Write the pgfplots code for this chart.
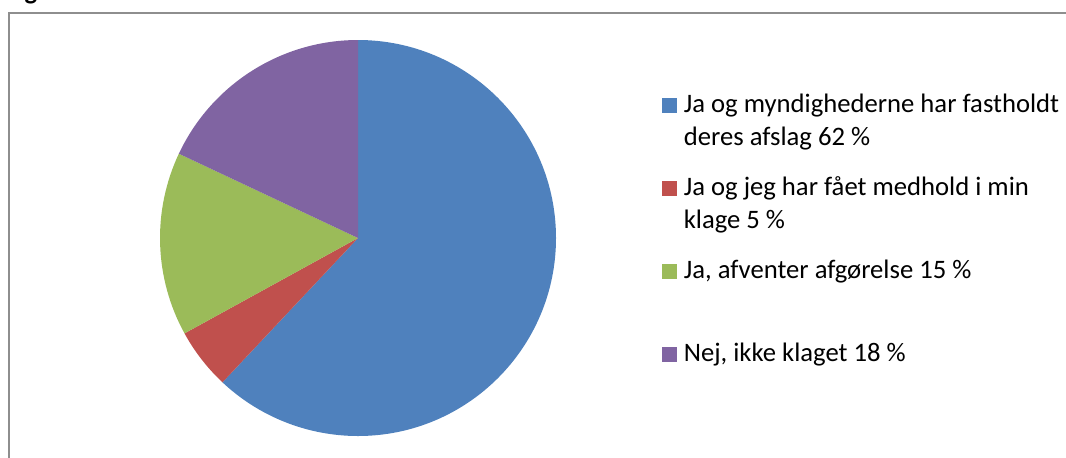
\documentclass[border=0pt]{standalone}
\usepackage{pgfplots}
\pgfplotsset{compat=1.18}
\usepackage{fontspec}
\setmainfont{Carlito}
\definecolor{pieblue}{HTML}{4F81BD}
\definecolor{piered}{HTML}{C0504D}
\definecolor{piegreen}{HTML}{9BBB59}
\definecolor{piepurple}{HTML}{8064A2}
\definecolor{framegray}{HTML}{8E8E8E}
\newcommand\entry[1]{\parbox[t]{330pt}{\raggedright\strut #1}}
\begin{document}
\begin{tikzpicture}
% shares in percent, clockwise from 12 o'clock
\def\pA{62}\def\pB{5}\def\pC{15}\def\pD{18}
\pgfmathsetmacro\aA{90}
\pgfmathsetmacro\aB{\aA-3.6*\pA}
\pgfmathsetmacro\aC{\aB-3.6*\pB}
\pgfmathsetmacro\aD{\aC-3.6*\pC}
\pgfmathsetmacro\aE{\aD-3.6*\pD}
\def\R{148.5pt}
\begin{axis}[
  scale only axis, width=799.5pt, height=342.75pt,
  xmin=0, xmax=1066, ymin=0, ymax=457, y dir=reverse,
  hide axis, clip=false,
  legend style={at={(axis cs:662,89)}, anchor=north west, draw=none, fill=none,
    inner sep=0pt, row sep=43.5pt, column sep=5.25pt,
    font=\fontsize{20}{24.75}\selectfont,
    cells={anchor=base west}, nodes={inner sep=0pt}},
  legend image code/.code={\fill[#1] (0pt,0pt) rectangle (10.5pt,10.5pt);},
]
\coordinate (bl) at (axis cs:0,457);
\coordinate (tr) at (axis cs:1066,0);
% frame
\draw[framegray, line width=1.1pt] (axis cs:9,490) -- (axis cs:9,13) -- (axis cs:1100,13);
\node[anchor=base, font=\bfseries\fontsize{20}{24}\selectfont, inner sep=0pt] at (axis cs:31,-1) {g};
% pie
\fill[pieblue]   (axis cs:358,238) -- ++(\aA:\R) arc[start angle=\aA, end angle=\aB, radius=\R] -- cycle;
\fill[piered]    (axis cs:358,238) -- ++(\aB:\R) arc[start angle=\aB, end angle=\aC, radius=\R] -- cycle;
\fill[piegreen]  (axis cs:358,238) -- ++(\aC:\R) arc[start angle=\aC, end angle=\aD, radius=\R] -- cycle;
\fill[piepurple] (axis cs:358,238) -- ++(\aD:\R) arc[start angle=\aD, end angle=\aE, radius=\R] -- cycle;
\addlegendimage{pieblue}
\addlegendentry{\entry{Ja og myndighederne har fastholdt\\deres afslag 62 \%}}
\addlegendimage{piered}
\addlegendentry{\entry{Ja og jeg har fået medhold i min\\klage 5 \%}}
\addlegendimage{piegreen}
\addlegendentry{\entry{Ja, afventer afgørelse 15 \%}}
\addlegendimage{piepurple}
\addlegendentry{\entry{Nej, ikke klaget 18 \%}}
\end{axis}
\pgfresetboundingbox
\useasboundingbox (bl) rectangle (tr);
\end{tikzpicture}
\end{document}
